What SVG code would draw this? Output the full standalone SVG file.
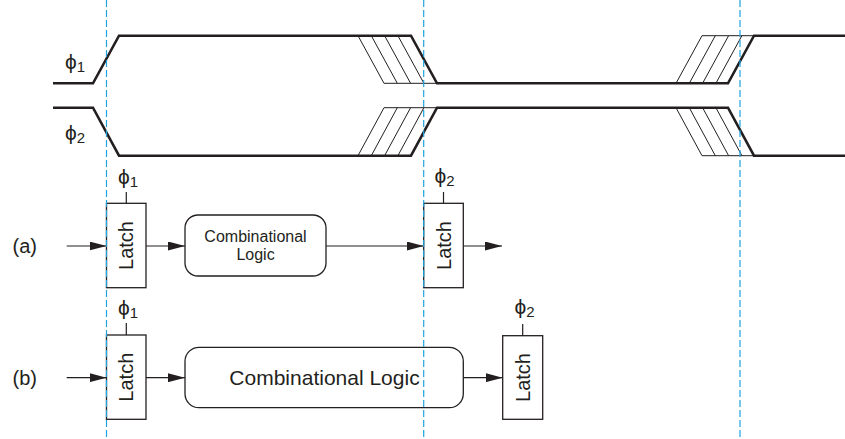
<svg xmlns="http://www.w3.org/2000/svg" width="845" height="439" viewBox="0 0 845 439">
<style>
text{font-family:"Liberation Sans",Arial,sans-serif;fill:#231f20}
.wave{fill:none;stroke:#231f20;stroke-width:2.6;stroke-linejoin:miter}
.hatch{fill:none;stroke:#231f20;stroke-width:1}
.box{fill:#fff;stroke:#231f20;stroke-width:1.3}
.wire{fill:none;stroke:#231f20;stroke-width:1.2}
.dash{fill:none;stroke:#1fa3e0;stroke-width:1.2;stroke-dasharray:7 3}
.phi{font-size:21px}
.sub{font-size:15px}
.lbl{font-size:20px}
.latch{font-size:20px;text-anchor:middle}
.cl{text-anchor:middle}
</style>
<defs>
<marker id="ah" markerWidth="17" markerHeight="9" refX="17" refY="4.5" orient="auto" markerUnits="userSpaceOnUse">
<path d="M0,0 L17,4.5 L0,9 Z" fill="#231f20"/>
</marker>
</defs>
<g id="waveforms">
<g id="phi1-wave">
<path class="wave" d="M53,83.3 L93,83.3 L119,35.7 L411,35.7 L437,83.3 L728,83.3 L754,35.7 L845,35.7"/>
<path class="hatch" d="M358,35.7 L384,83.3 M371.3,35.7 L397.3,83.3 M384.6,35.7 L410.6,83.3 M397.9,35.7 L423.9,83.3 M384,83.3 L437,83.3"/>
<path class="hatch" d="M676,83.3 L702,35.7 M689.3,83.3 L715.3,35.7 M702.6,83.3 L728.6,35.7 M715.9,83.3 L741.9,35.7 M702,35.7 L754,35.7"/>
<text x="65" y="69" class="phi">ϕ<tspan class="sub" dy="3">1</tspan></text>
</g>
<g id="phi2-wave">
<path class="wave" d="M53,107.7 L93,107.7 L119,155.7 L411,155.7 L437,107.7 L728,107.7 L754,155.7 L845,155.7"/>
<path class="hatch" d="M358,155.7 L384,107.7 M371.3,155.7 L397.3,107.7 M384.6,155.7 L410.6,107.7 M397.9,155.7 L423.9,107.7 M384,107.7 L437,107.7"/>
<path class="hatch" d="M676,107.7 L702,155.7 M689.3,107.7 L715.3,155.7 M702.6,107.7 L728.6,155.7 M715.9,107.7 L741.9,155.7 M702,155.7 L754,155.7"/>
<text x="65" y="139.5" class="phi">ϕ<tspan class="sub" dy="3">2</tspan></text>
</g>
</g>
<g id="labels">
<text x="12.5" y="253" class="lbl">(a)</text>
<text x="12.5" y="384.5" class="lbl">(b)</text>
</g>
<g id="connectors">
<line class="wire" x1="66.7" y1="246" x2="106.5" y2="246" marker-end="url(#ah)"/>
<line class="wire" x1="146" y1="246" x2="185" y2="246" marker-end="url(#ah)"/>
<line class="wire" x1="326" y1="246" x2="423.7" y2="246" marker-end="url(#ah)"/>
<line class="wire" x1="463.3" y1="246" x2="502" y2="246" marker-end="url(#ah)"/>
<line class="wire" x1="66.7" y1="377.7" x2="106.5" y2="377.7" marker-end="url(#ah)"/>
<line class="wire" x1="146" y1="377.7" x2="185" y2="377.7" marker-end="url(#ah)"/>
<line class="wire" x1="463.3" y1="377.7" x2="502.7" y2="377.7" marker-end="url(#ah)"/>
<line class="wire" x1="126.3" y1="192" x2="126.3" y2="203.3"/>
<line class="wire" x1="443.5" y1="192" x2="443.5" y2="203.3"/>
<line class="wire" x1="126.3" y1="323" x2="126.3" y2="335"/>
<line class="wire" x1="522.7" y1="324" x2="522.7" y2="335.7"/>
</g>
<g id="latch-a1">
<rect class="box" x="106.5" y="203.3" width="39.5" height="84.4"/>
<text class="latch" transform="translate(126.3,245.5) rotate(-90)" y="7">Latch</text>
<text x="118" y="184" class="phi">ϕ<tspan class="sub" dy="3">1</tspan></text>
</g>
<g id="comb-a">
<rect class="box" x="185" y="215" width="141" height="61" rx="13" ry="13"/>
<text class="cl" x="255.5" y="241.7" font-size="16">Combinational</text>
<text class="cl" x="255.5" y="260" font-size="16">Logic</text>
</g>
<g id="latch-a2">
<rect class="box" x="423.7" y="203.3" width="39.6" height="84.4"/>
<text class="latch" transform="translate(443.5,245.5) rotate(-90)" y="7">Latch</text>
<text x="434.5" y="183" class="phi">ϕ<tspan class="sub" dy="3">2</tspan></text>
</g>
<g id="latch-b1">
<rect class="box" x="106.5" y="335" width="39.5" height="84.3"/>
<text class="latch" transform="translate(126.3,377.2) rotate(-90)" y="7">Latch</text>
<text x="118" y="314.5" class="phi">ϕ<tspan class="sub" dy="3">1</tspan></text>
</g>
<g id="comb-b">
<rect class="box" x="185" y="347.3" width="278.3" height="60.4" rx="14" ry="14"/>
<text class="cl" x="324.5" y="385.3" font-size="21">Combinational Logic</text>
</g>
<g id="latch-b2">
<rect class="box" x="502.7" y="335.7" width="40" height="83.6"/>
<text class="latch" transform="translate(522.7,377.5) rotate(-90)" y="7">Latch</text>
<text x="514.5" y="314" class="phi">ϕ<tspan class="sub" dy="3">2</tspan></text>
</g>
<g id="guides">
<line class="dash" x1="106.5" y1="0" x2="106.5" y2="439"/>
<line class="dash" x1="423.7" y1="0" x2="423.7" y2="439"/>
<line class="dash" x1="740" y1="0" x2="740" y2="439"/>
</g>
</svg>
